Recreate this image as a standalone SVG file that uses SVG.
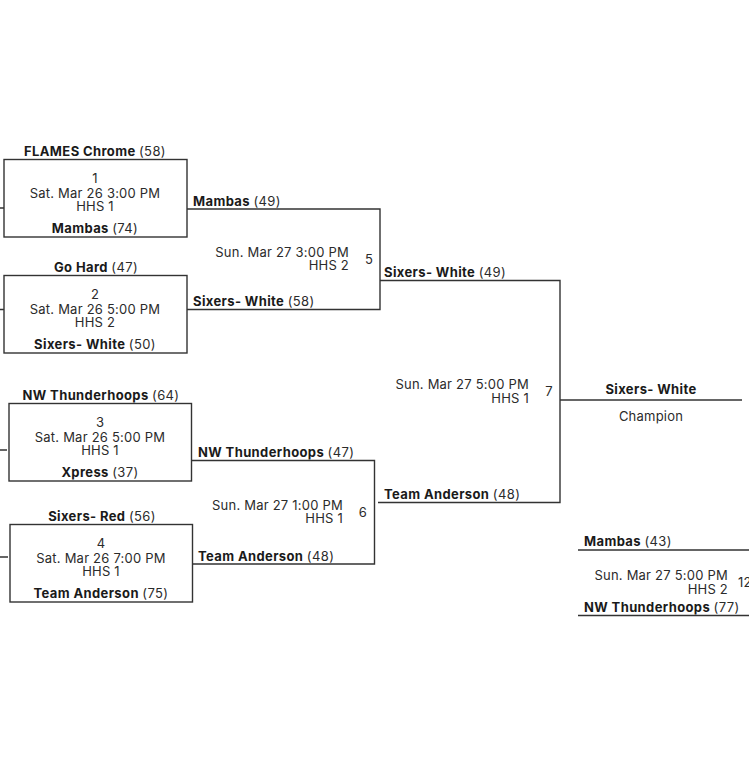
<svg xmlns="http://www.w3.org/2000/svg" width="749" height="773" viewBox="0 0 749 773">
<style>
text{font-family:"Inter","Liberation Sans",sans-serif;font-size:13px;fill:#2b2b2b;letter-spacing:.22px}
.b{font-weight:700;fill:#1a1a1a;letter-spacing:.38px}
.r{font-weight:400;fill:#2b2b2b}
.m{text-anchor:middle}
.e{text-anchor:end}
.l{fill:none;stroke:#333;stroke-width:1.4}
</style>
<rect width="749" height="773" fill="#fff"/>
<g id="connectors">
<path class="l" d="M0 208H4M0 309.500H4M0 450H7M0 557H8"/>
<path class="l" d="M187 209H380V309.500H187"/>
<path class="l" d="M380 280.500H560V502.500H378"/>
<path class="l" d="M192 460.500H374.500V564H192"/>
<path class="l" d="M560 400H742"/>
<path class="l" d="M578 550H749M578 615.500H749"/>
</g>
<g id="game1"><rect class="l" x="4" y="159.500" width="183" height="77.500"/>
<text class="b m" x="95" y="156">FLAMES Chrome <tspan class="r">(58)</tspan></text>
<text class="m"><tspan x="95" y="183">1</tspan><tspan x="95" y="198">Sat. Mar 26 3:00 PM</tspan><tspan x="95" y="211">HHS 1</tspan></text>
<text class="b m" x="95" y="233">Mambas <tspan class="r">(74)</tspan></text></g>
<g id="game2"><rect class="l" x="4" y="275.500" width="183" height="77.500"/>
<text class="b m" x="96" y="272">Go Hard <tspan class="r">(47)</tspan></text>
<text class="m"><tspan x="95" y="299">2</tspan><tspan x="95" y="314">Sat. Mar 26 5:00 PM</tspan><tspan x="95" y="327">HHS 2</tspan></text>
<text class="b m" x="95" y="349">Sixers- White <tspan class="r">(50)</tspan></text></g>
<g id="game3"><rect class="l" x="9" y="403.500" width="182.500" height="77.500"/>
<text class="b m" x="101" y="400">NW Thunderhoops <tspan class="r">(64)</tspan></text>
<text class="m"><tspan x="100" y="427">3</tspan><tspan x="100" y="442">Sat. Mar 26 5:00 PM</tspan><tspan x="100" y="455">HHS 1</tspan></text>
<text class="b m" x="100" y="477">Xpress <tspan class="r">(37)</tspan></text></g>
<g id="game4"><rect class="l" x="10" y="524.500" width="182.500" height="77.500"/>
<text class="b m" x="102" y="521">Sixers- Red <tspan class="r">(56)</tspan></text>
<text class="m"><tspan x="101" y="548">4</tspan><tspan x="101" y="563">Sat. Mar 26 7:00 PM</tspan><tspan x="101" y="576">HHS 1</tspan></text>
<text class="b m" x="101" y="598">Team Anderson <tspan class="r">(75)</tspan></text></g>
<g id="game5">
<text class="b" x="193" y="206">Mambas <tspan class="r">(49)</tspan></text>
<text class="e"><tspan x="349" y="257">Sun. Mar 27 3:00 PM</tspan><tspan x="349" y="270">HHS 2</tspan></text>
<text class="m" x="369" y="264">5</text>
<text class="b" x="193" y="306">Sixers- White <tspan class="r">(58)</tspan></text></g>
<g id="game6">
<text class="b" x="198" y="457">NW Thunderhoops <tspan class="r">(47)</tspan></text>
<text class="e"><tspan x="343" y="510">Sun. Mar 27 1:00 PM</tspan><tspan x="343" y="523">HHS 1</tspan></text>
<text class="m" x="363" y="517">6</text>
<text class="b" x="198" y="561">Team Anderson <tspan class="r">(48)</tspan></text></g>
<g id="game7">
<text class="b" x="384" y="277">Sixers- White <tspan class="r">(49)</tspan></text>
<text class="e"><tspan x="529" y="389">Sun. Mar 27 5:00 PM</tspan><tspan x="529" y="403">HHS 1</tspan></text>
<text class="m" x="549" y="396">7</text>
<text class="b" x="384" y="499">Team Anderson <tspan class="r">(48)</tspan></text></g>
<g id="champion">
<text class="b m" x="651" y="394">Sixers- White</text>
<text class="m" x="651" y="421">Champion</text></g>
<g id="game12">
<text class="b" x="584" y="546">Mambas <tspan class="r">(43)</tspan></text>
<text class="e"><tspan x="728" y="580">Sun. Mar 27 5:00 PM</tspan><tspan x="728" y="594">HHS 2</tspan></text>
<text x="738" y="587">12</text>
<text class="b" x="584" y="612">NW Thunderhoops <tspan class="r">(77)</tspan></text></g>
</svg>
